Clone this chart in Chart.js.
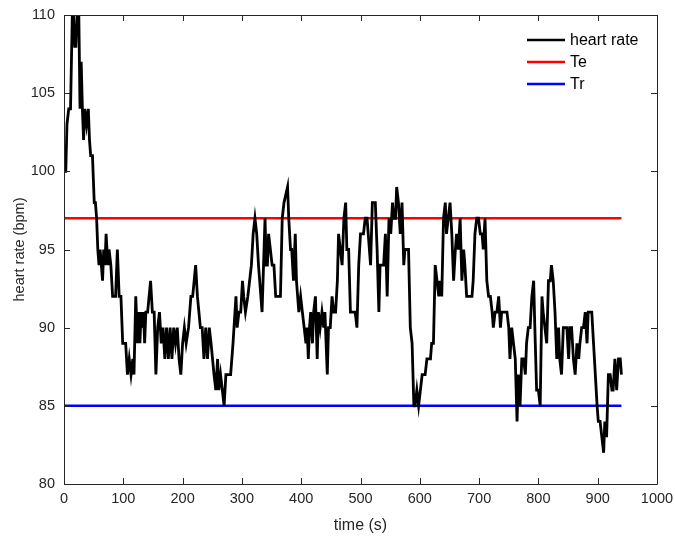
<!DOCTYPE html>
<html>
<head>
<meta charset="utf-8">
<script src="https://cdn.jsdelivr.net/npm/chart.js@4"></script>
<style>
html,body{margin:0;padding:0;background:#fff;}
#wrap{width:675px;height:536px;position:relative;}
</style>
</head>
<body>
<div id="wrap"><canvas id="c" width="675" height="536"></canvas></div>
<script>
// ---- data ----
const times = [0,3,5,8,11,14,16,18,20,22,25,27,29,31,33,35,38,41,43,45,48,51,53,55,57,59,61,63,65,67,69,71,74,76,79,82,87,90,93,96,99,104,107,110,113,116,118,121,124,126,128,130,132,134,136,138,141,146,149,152,155,158,161,164,167,170,173,176,179,182,185,188,191,194,197,200,203,206,210,214,217,222,225,230,233,236,239,242,245,248,253,256,259,261,264,267,270,273,281,285,290,292,295,298,301,303,306,310,313,316,319,322,325,328,334,339,341,343,345,348,351,354,357,365,368,371,377,379,382,384,387,390,392,394,396,399,402,405,408,410,412,414,416,419,421,424,427,429,432,435,438,440,444,446,449,452,455,458,461,463,466,469,472,475,477,480,483,491,494,497,500,505,508,511,517,520,525,528,531,533,539,542,545,548,551,554,556,559,561,564,567,570,573,575,581,584,587,590,592,595,598,601,604,609,612,618,620,623,626,629,632,634,637,640,643,645,648,651,654,657,660,662,665,668,671,674,676,679,688,690,693,696,699,702,705,707,710,713,716,719,722,724,727,730,733,736,738,747,750,752,755,758,761,764,766,769,772,775,778,780,783,786,789,792,794,797,800,803,806,808,811,814,817,820,822,825,828,831,834,836,839,842,848,851,853,856,859,862,865,868,870,873,876,879,882,884,890,893,896,899,901,904,907,910,912,915,918,921,924,926,929,932,935,938,940];
const heartRate = [100,100,103,104,104,110,110,108,108,110,110,104,107,104,102,104,103,104,102,101,101,98,98,97,95,94,95,94,93,95,94,96,94,95,94,92,92,95,92,92,89,89,87,88,87,88,87,92,89,91,89,91,90,91,89,91,91,93,91,91,87,90,91,89,90,88,90,88,90,88,90,89,90,88,87,89,90,89,90,92,92,94,92,90,90,88,90,88,90,89,87,86,88,86,87,86,85,87,87,89,92,90,91,91,93,92,91,92,93,94,96,97,96,94,91,97,94,94,96,95,94,94,92,92,97,98,99,97,95,95,93,96,93,92,91,92,91,90,89,90,88,90,91,89,91,92,88,91,90,91,90,91,87,90,90,92,91,91,93,96,95,94,97,98,95,95,91,91,90,94,96,96,97,97,94,98,98,95,91,94,94,96,92,97,96,98,97,97,99,98,96,98,94,95,95,90,89,85,85,86,85,86,87,87,88,88,89,89,94,93,92,93,92,97,98,96,97,98,96,93,95,96,95,97,93,95,94,92,92,93,96,97,97,96,96,95,97,93,92,92,91,90,91,91,92,90,91,91,90,88,90,89,88,84,87,85,88,88,87,89,90,90,92,93,90,86,86,85,92,91,90,89,93,93,94,93,91,88,90,88,87,90,90,88,90,90,88,87,89,88,89,90,90,91,89,91,91,89,87,85,84,84,83,82,84,83,87,87,86,86,88,86,88,88,87];
const thresholdTimes = [0, 940];
const teValue = 97;
const trValue = 85;
const xTickValues = [0,100,200,300,400,500,600,700,800,900,1000];
const yTickValues = [80,85,90,95,100,105,110];
const seriesLabels = ['heart rate','Te','Tr'];
const seriesColors = ['#000000','#FF0000','#0000FF'];

const FONT = '"Liberation Sans", Arial, Helvetica, sans-serif';
const AXC = '#262626';

const hrData = times.map((t,i)=>({x:t,y:heartRate[i]}));
const teData = thresholdTimes.map(t=>({x:t,y:teValue}));
const trData = thresholdTimes.map(t=>({x:t,y:trValue}));

const boxPlugin = {
  id:'boxTicks',
  afterDraw(chart){
    const {ctx, chartArea:{left,right,top,bottom}, scales:{x,y}} = chart;
    ctx.save();
    ctx.strokeStyle = AXC;
    ctx.lineWidth = 1;
    ctx.beginPath();
    ctx.rect(Math.round(left)+0.5, Math.round(top)+0.5, Math.round(right-left), Math.round(bottom-top));
    ctx.stroke();
    const tl = 6;
    ctx.beginPath();
    xTickValues.forEach(v=>{
      const p = Math.round(x.getPixelForValue(v))+0.5;
      ctx.moveTo(p,bottom); ctx.lineTo(p,bottom-tl);
      ctx.moveTo(p,top); ctx.lineTo(p,top+tl);
    });
    yTickValues.forEach(v=>{
      const p = Math.round(y.getPixelForValue(v))+0.5;
      ctx.moveTo(left,p); ctx.lineTo(left+tl,p);
      ctx.moveTo(right,p); ctx.lineTo(right-tl,p);
    });
    ctx.stroke();
    // legend
    ctx.font = '16px ' + FONT;
    ctx.textBaseline = 'middle';
    ctx.textAlign = 'left';
    chart.data.datasets.forEach((ds,i)=>{
      const yy = 40 + i*22;
      ctx.strokeStyle = ds.borderColor;
      ctx.lineWidth = 2.5;
      ctx.beginPath(); ctx.moveTo(527,yy); ctx.lineTo(565,yy); ctx.stroke();
      ctx.fillStyle = '#000';
      ctx.fillText(ds.label, 570, yy+1);
    });
    ctx.restore();
  }
};

new Chart(document.getElementById('c'), {
  type:'line',
  data:{datasets:[
    {label:seriesLabels[0], data:hrData, borderColor:seriesColors[0], borderWidth:2.8, pointRadius:0, tension:0, order:1},
    {label:seriesLabels[1], data:teData, borderColor:seriesColors[1], borderWidth:2.5, pointRadius:0, order:2},
    {label:seriesLabels[2], data:trData, borderColor:seriesColors[2], borderWidth:2.5, pointRadius:0, order:3}
  ]},
  options:{
    responsive:false,
    animation:false,
    events:[],
    layout:{padding:{top:15,right:18,left:0,bottom:0}},
    plugins:{legend:{display:false}, tooltip:{enabled:false}},
    scales:{
      x:{type:'linear', min:0, max:1000,
        grid:{display:false, drawTicks:false}, border:{display:false},
        afterBuildTicks(s){ s.ticks = xTickValues.map(v=>({value:v})); },
        ticks:{padding:6, color:AXC, font:{size:14.5, family:FONT}, maxRotation:0, autoSkip:false, callback:(v)=>String(v)},
        title:{display:true, text:'time (s)', color:AXC, font:{size:16, family:FONT}, padding:{top:2,bottom:1}},
        afterFit(s){ s.height = 52; s.paddingLeft = 0; s.paddingRight = 0; }
      },
      y:{type:'linear', min:80, max:110,
        grid:{display:false, drawTicks:false}, border:{display:false},
        afterBuildTicks(s){ s.ticks = yTickValues.map(v=>({value:v})); },
        ticks:{padding:9, color:AXC, font:{size:14.5, family:FONT}, autoSkip:false, callback:(v)=>String(v)},
        title:{display:true, text:'heart rate (bpm)', color:AXC, font:{size:14.5, family:FONT}, padding:{top:11,bottom:2}},
        afterFit(s){ s.width = 64; s.paddingTop = 0; s.paddingBottom = 0; }
      }
    }
  },
  plugins:[boxPlugin]
});
</script>
</body>
</html>
